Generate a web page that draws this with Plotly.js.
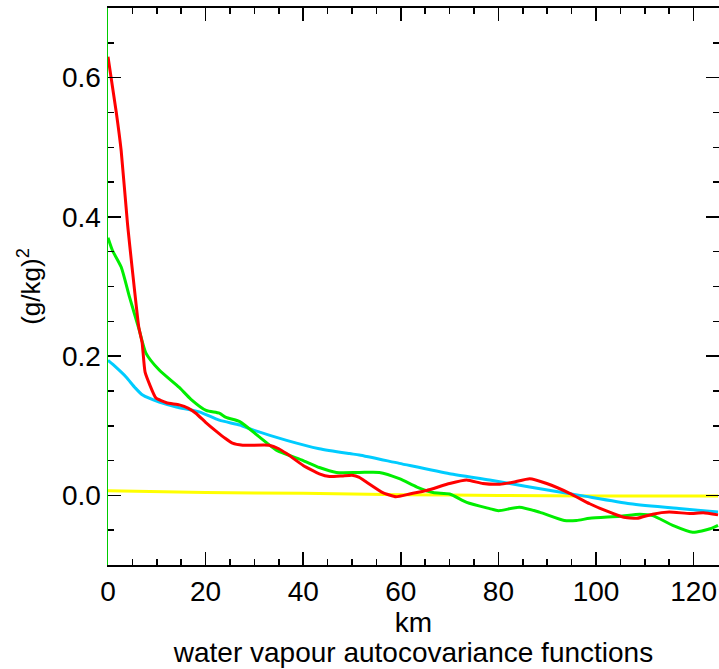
<!DOCTYPE html>
<html>
<head>
<meta charset="utf-8">
<script src="https://cdn.plot.ly/plotly-3.0.1.min.js"></script>
<style>html,body{margin:0;padding:0;background:#fff;}#chart{width:719px;height:669px;}</style>
</head>
<body>
<div id="chart"></div>
<script>
// distances (km) and autocovariance values ((g/kg)^2)
const redKm  = [0, 1.7, 2.7, 4.0, 6.3, 7.0, 7.6, 9.8, 12, 14.6, 16.5, 18, 20, 22.2, 24, 25.5, 27.6, 33, 35, 36.6, 40, 43.3, 45.4, 48, 50, 51.5, 53, 56.3, 59, 61.8, 65.3, 70, 73.5, 76.8, 80.3, 83, 86.4, 89.9, 94.6, 98.7, 102, 105.5, 108.4, 111.6, 115, 119.2, 122, 125];
const redVal = [0.63, 0.55, 0.495, 0.39, 0.242, 0.219, 0.177, 0.14, 0.133, 0.13, 0.125, 0.118, 0.105, 0.092, 0.082, 0.075, 0.072, 0.072, 0.067, 0.06, 0.043, 0.031, 0.027, 0.028, 0.029, 0.026, 0.019, 0.004, -0.002, 0.002, 0.007, 0.017, 0.022, 0.017, 0.016, 0.019, 0.024, 0.017, 0.003, -0.012, -0.022, -0.031, -0.033, -0.027, -0.024, -0.026, -0.025, -0.028];

const greenKm  = [0, 0.9, 2.7, 4.4, 6.3, 7.8, 10.5, 14.6, 17, 20.1, 22.8, 24.2, 27, 31, 34.5, 40, 43.3, 46.8, 51.5, 55.6, 59.7, 63.3, 66.6, 70, 73.5, 78.2, 80, 84.3, 88.4, 93.5, 96, 98.7, 104.9, 109, 111.6, 115.7, 119.8, 123.4, 125];
const greenVal = [0.37, 0.352, 0.328, 0.285, 0.24, 0.204, 0.18, 0.155, 0.138, 0.122, 0.118, 0.112, 0.106, 0.084, 0.065, 0.05, 0.04, 0.033, 0.033, 0.033, 0.024, 0.012, 0.004, 0.002, -0.01, -0.019, -0.022, -0.017, -0.024, -0.036, -0.036, -0.033, -0.030, -0.027, -0.029, -0.043, -0.053, -0.048, -0.043];

const cyanKm  = [0, 1, 3.7, 5.5, 7.1, 10.5, 14, 18.7, 22.8, 27, 29.7, 36.6, 43.3, 49.5, 51.5, 59.7, 70, 78.2, 86.4, 96.7, 107, 117, 125];
const cyanVal = [0.194, 0.188, 0.17, 0.155, 0.144, 0.134, 0.127, 0.12, 0.108, 0.101, 0.094, 0.079, 0.067, 0.06, 0.058, 0.046, 0.031, 0.022, 0.012, 0.0, -0.012, -0.019, -0.024];

const yellowKm  = [0, 20, 40, 60, 80, 100, 125];
const yellowVal = [0.0065, 0.004, 0.003, 0.001, 0.0, -0.001, -0.001];

const xTitle = 'km';
const yTitle = '(g/kg)<sup>2</sup>';
const chartTitle = 'water vapour autocovariance functions';

const FONT = 'Liberation Sans, Arial, Helvetica, sans-serif';

function tr(x, y, color, smooth) {
  return {x: x, y: y, type: 'scatter', mode: 'lines',
          line: {color: color, width: 3, shape: 'spline', smoothing: smooth},
          hoverinfo: 'skip', showlegend: false};
}

const data = [
  tr(yellowKm, yellowVal, '#ffff00', 0.5),
  tr(cyanKm, cyanVal, '#00ccff', 0.6),
  tr(greenKm, greenVal, '#00ee00', 0.6),
  tr(redKm, redVal, '#ff0000', 0.4)
];

const layout = {
  width: 719, height: 669,
  margin: {l: 108, r: 0, t: 8, b: 104, pad: 0},
  paper_bgcolor: '#ffffff', plot_bgcolor: '#ffffff',
  font: {family: FONT, size: 28, color: '#000'},
  showlegend: false,
  title: {text: chartTitle, font: {family: FONT, size: 28, color: '#000'},
          x: 0.5, xref: 'paper', xanchor: 'center', y: 1 - 652/669, yref: 'container', yanchor: 'middle'},
  xaxis: {
    range: [0, 125.2], showgrid: false, zeroline: false,
    dtick: 20, tick0: 0,
    ticks: 'inside', ticklen: 13, tickwidth: 1.5, tickcolor: '#000',
    minor: {dtick: 5, ticks: 'inside', ticklen: 6, tickwidth: 1.5, tickcolor: '#000', showgrid: false},
    showline: true, linecolor: '#000', linewidth: 2, mirror: 'allticks',
    tickfont: {family: FONT, size: 28, color: '#000'},
    title: {text: xTitle, font: {family: FONT, size: 28, color: '#000'}, standoff: 6}
  },
  yaxis: {
    range: [-0.1, 0.7], showgrid: false, zeroline: false,
    dtick: 0.2, tick0: 0, tickformat: '.1f',
    ticks: 'inside', ticklen: 13, tickwidth: 1.5, tickcolor: '#000',
    minor: {dtick: 0.05, ticks: 'inside', ticklen: 6, tickwidth: 1.5, tickcolor: '#000', showgrid: false},
    showline: true, linecolor: '#00cc00', linewidth: 1.5, mirror: 'allticks',
    tickfont: {family: FONT, size: 28, color: '#000'},
    title: {text: yTitle, font: {family: FONT, size: 26, color: '#000'}, standoff: 14}
  }
};

Plotly.newPlot('chart', data, layout, {staticPlot: true, displayModeBar: false});
</script>
</body>
</html>
